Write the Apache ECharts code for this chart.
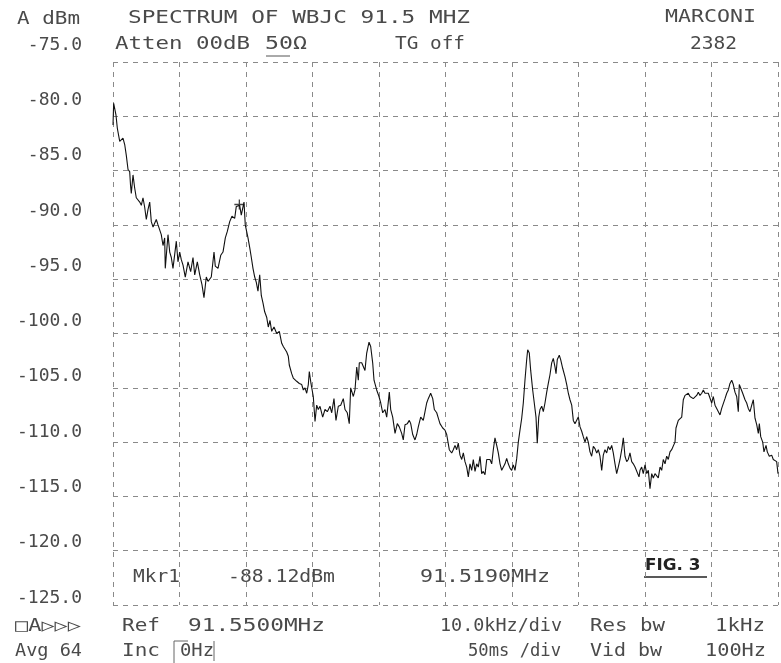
<!DOCTYPE html>
<html><head><meta charset="utf-8">
<script src="https://cdn.jsdelivr.net/npm/echarts/dist/echarts.min.js"></script>
<style>html,body{margin:0;padding:0;background:#fff}#c{width:781px;height:663px}</style>
</head><body><div id="c"></div>
<script>
// ---- data ----
const START_FREQ_KHZ = 91500;      // left edge of screen (Ref 91.5500 MHz centre, 10 kHz/div)
const SPAN_KHZ = 100;
const DIV_KHZ = 10;
const LEVEL_MIN = -125, LEVEL_MAX = -75, LEVEL_STEP = 5;

const freqOffsetKHz = [
0.0,0.1,0.26,0.45,0.65,1.01,1.50,1.76,2.00,2.26,2.51,2.63,2.75,3.01,3.26,3.50,4.02,4.26,4.51,4.77,
5.01,5.26,5.52,5.76,6.02,6.51,6.77,7.26,7.52,7.77,7.86,8.27,8.53,8.77,9.02,9.52,9.77,10.03,10.27,10.53,
10.87,11.28,11.68,12.03,12.29,12.68,13.04,13.38,13.68,14.03,14.29,14.78,15.19,15.38,15.79,16.20,16.54,16.89,17.19,17.55,
17.89,18.30,18.54,19.05,19.29,19.70,19.89,20.30,20.56,20.80,21.05,21.31,21.55,21.80,22.06,22.30,22.56,22.81,23.11,23.35,
23.61,23.86,24.21,24.62,25.01,25.37,25.61,26.12,26.36,26.51,26.87,27.11,27.62,28.02,28.38,28.62,28.87,29.13,29.37,29.52,
29.77,30.12,30.38,30.63,30.87,31.13,31.53,31.88,32.23,32.63,32.89,33.23,33.53,33.88,34.24,34.63,34.89,35.23,35.53,35.74,
36.14,36.39,36.65,36.89,37.04,37.40,37.64,37.89,38.15,38.50,38.75,39.05,39.25,39.65,40.00,40.26,40.56,40.90,41.16,41.55,
41.76,42.06,42.41,42.75,43.05,43.41,43.65,43.91,44.26,44.56,44.77,45.07,45.41,45.67,45.91,46.27,46.66,46.92,47.17,47.41,
47.77,48.08,48.32,48.68,48.92,49.17,49.58,49.92,50.18,50.57,50.93,51.17,51.43,51.68,51.92,52.18,52.44,52.68,52.93,53.19,
53.43,53.68,53.94,54.18,54.44,54.69,54.93,55.19,55.44,55.68,55.94,56.20,56.69,56.95,57.19,57.44,57.70,57.94,58.20,58.45,
58.69,58.95,59.20,59.44,59.70,59.95,60.20,60.45,60.71,60.95,61.20,61.46,61.70,61.95,62.21,62.36,62.60,62.81,63.11,63.35,
63.61,63.80,64.02,64.21,64.47,64.71,64.96,65.22,65.46,65.71,65.97,66.21,66.47,66.62,66.81,67.11,67.32,67.62,67.97,68.23,
68.47,68.72,68.98,69.22,69.47,69.73,69.97,70.23,70.48,70.72,70.98,71.23,71.47,71.73,71.98,72.23,72.48,72.74,72.98,73.23,
73.49,73.73,73.98,74.24,74.48,74.74,74.99,75.23,75.49,75.74,75.98,76.24,76.50,76.74,76.99,77.25,77.49,77.74,78.00,78.24,
78.50,78.75,79.10,79.25,79.50,79.74,80.00,80.26,80.50,80.75,81.01,81.25,81.50,81.76,82.00,82.26,82.51,82.75,83.01,83.26,
83.50,83.76,84.01,84.26,84.51,84.66,85.01,85.26,85.52,85.76,86.02,86.27,86.51,86.77,87.02,87.26,87.52,87.77,88.02,88.27,
88.53,88.77,89.02,89.28,89.52,89.77,90.03,90.27,90.53,90.78,91.02,91.28,91.53,91.77,92.03,92.29,92.53,92.78,93.04,93.28,
93.53,93.79,94.03,94.18,94.39,94.69,95.04,95.29,95.53,95.79,96.05,96.29,96.54,96.80,97.04,97.19,97.40,97.70,97.89,98.20,
98.39,98.69,99.05,99.29,99.55,99.80,100.0
];
const levelDBm = [
-80.8,-78.8,-78.7,-79.9,-81.1,-82.3,-82.0,-82.6,-83.6,-84.9,-85.1,-86.3,-87.1,-85.4,-86.6,-87.5,-87.9,-88.2,-87.5,-88.4,
-89.5,-88.6,-87.9,-89.7,-90.2,-89.5,-90.0,-90.9,-91.9,-91.2,-94.0,-90.9,-92.5,-93.0,-94.0,-91.5,-93.4,-92.5,-93.2,-93.7,
-94.8,-93.4,-94.3,-93.0,-94.6,-93.4,-94.6,-95.5,-96.7,-94.8,-95.2,-94.8,-92.5,-93.8,-94.0,-92.8,-92.5,-91.2,-90.6,-89.7,
-89.2,-89.4,-88.3,-88.2,-89.1,-87.9,-90.0,-91.2,-92.1,-93.0,-94.0,-94.8,-95.3,-96.1,-94.6,-96.5,-97.2,-98.0,-98.5,-99.4,
-98.8,-99.8,-99.4,-100.0,-99.8,-100.9,-101.2,-101.7,-102.1,-102.9,-103.7,-104.1,-104.4,-104.6,-104.7,-105.2,-105.0,-105.5,-104.7,-103.5,
-104.6,-105.8,-108.1,-106.6,-107.0,-106.7,-107.7,-107.0,-107.2,-106.7,-107.3,-106.0,-108.0,-106.7,-106.6,-106.0,-107.0,-107.3,-108.3,-105.0,
-105.8,-105.2,-103.1,-104.3,-102.7,-102.7,-102.6,-103.4,-101.8,-100.8,-101.2,-102.7,-104.3,-105.2,-105.8,-106.4,-107.3,-107.0,-107.7,-105.4,
-107.0,-107.7,-109.2,-108.3,-108.6,-109.2,-109.8,-108.4,-108.3,-108.0,-108.3,-109.3,-109.8,-109.3,-108.6,-107.7,-108.0,-107.2,-106.4,-106.0,
-105.5,-106.0,-107.0,-107.3,-107.8,-108.3,-108.7,-108.9,-109.3,-110.7,-111.0,-110.7,-110.3,-110.7,-110.1,-111.2,-111.6,-111.0,-111.8,-112.3,
-113.2,-112.0,-112.6,-111.6,-112.7,-112.0,-112.3,-111.3,-112.9,-112.7,-113.0,-111.6,-111.6,-112.0,-110.7,-109.6,-110.3,-111.0,-112.0,-112.6,
-112.7,-112.0,-111.5,-112.0,-112.4,-112.6,-112.1,-112.6,-111.5,-110.0,-108.9,-107.8,-106.4,-104.3,-102.4,-101.5,-101.8,-103.4,-105.2,-106.4,
-107.7,-110.1,-107.7,-107.0,-106.7,-107.2,-106.4,-105.4,-104.6,-103.8,-102.7,-102.3,-103.1,-103.7,-102.4,-102.0,-102.4,-103.2,-104.0,-104.7,
-105.5,-106.1,-106.6,-108.0,-108.3,-108.3,-107.7,-108.6,-109.0,-109.5,-110.0,-109.5,-110.0,-110.9,-111.3,-110.4,-110.6,-111.0,-110.7,-111.3,
-112.6,-111.2,-110.7,-111.0,-110.4,-110.7,-110.3,-111.0,-112.0,-112.9,-112.3,-111.6,-110.7,-109.6,-111.3,-111.8,-111.6,-111.0,-111.8,-112.0,
-112.3,-112.4,-113.2,-112.6,-112.3,-112.9,-112.1,-112.9,-112.6,-114.3,-112.9,-113.3,-112.9,-113.0,-113.3,-112.3,-112.6,-111.6,-112.0,-111.3,
-111.6,-110.9,-110.7,-110.6,-110.0,-108.7,-108.0,-108.1,-107.7,-106.1,-105.7,-105.8,-105.5,-105.8,-105.7,-106.0,-106.1,-105.7,-105.4,-105.7,
-105.5,-105.2,-105.5,-105.4,-105.5,-105.4,-106.4,-105.8,-106.6,-106.9,-107.0,-107.5,-106.9,-107.0,-106.0,-105.5,-105.2,-104.6,-104.3,-104.7,
-105.4,-105.8,-107.2,-104.7,-104.6,-105.5,-106.1,-106.4,-106.9,-107.2,-106.6,-106.1,-107.8,-108.4,-109.2,-108.3,-109.5,-110.0,-110.9,-110.3,
-110.9,-111.3,-111.2,-111.6,-111.5,-111.8,-112.9
];
const markerFreqKHz = 91519.0;
const markerLevelDBm = -88.12;

// ---- text blocks ----
const headerTexts = [
  {t:'A dBm', x:17, y:20, w:63},
  {t:'SPECTRUM OF WBJC 91.5 MHZ', x:128, y:19, w:342},
  {t:'MARCONI', x:665, y:18, w:91},
  {t:'Atten 00dB', x:115, y:45, w:135},
  {t:'50Ω', x:265, y:45, w:42},
  {t:'TG off', x:395, y:45, w:70},
  {t:'2382', x:690, y:45, w:47},
  {t:'□A▷▷▷', x:15, y:627, w:66},
  {t:'Ref', x:122, y:627, w:38},
  {t:'91.5500MHz', x:188, y:627, w:137},
  {t:'10.0kHz/div', x:440, y:627, w:122},
  {t:'Res bw', x:590, y:627, w:75},
  {t:'1kHz', x:715, y:627, w:50},
  {t:'Avg 64', x:15, y:652, w:67},
  {t:'Inc', x:122, y:652, w:38},
  {t:'0Hz', x:180, y:652, w:34},
  {t:'50ms /div', x:468, y:652, w:93},
  {t:'Vid bw', x:590, y:652, w:72},
  {t:'100Hz', x:705, y:652, w:61},
  {t:'Mkr1', x:133, y:578, w:47},
  {t:'-88.12dBm', x:228, y:578, w:107},
  {t:'91.5190MHz', x:420, y:578, w:130}
];

const FONT = '"DejaVu Sans Mono", "Liberation Mono", monospace';
const FS = 17, CHAR_W = FS * 0.602;
const TEXT_COLOR = '#4a4a4a';

const chart = echarts.init(document.getElementById('c'), null, {renderer:'canvas'});
const gridLine = {show:true, lineStyle:{color:'#8a8a8a', width:1, type:[5,5]}};

const graphics = headerTexts.map(o => ({
  type:'text', x:o.x, y:o.y, scaleX: o.w / (o.t.length * CHAR_W), silent:true,
  style:{text:o.t, font: FS + 'px ' + FONT, fill:TEXT_COLOR, textAlign:'left', textVerticalAlign:'middle'}
}));
graphics.push(
  {type:'text', x:645, y:566, scaleX:1.12, silent:true,
   style:{text:'FIG. 3', font:'bold 15px "DejaVu Sans", sans-serif', fill:'#222', textAlign:'left', textVerticalAlign:'middle'}},
  {type:'line', silent:true, shape:{x1:644, y1:577, x2:707, y2:577}, style:{stroke:'#222', lineWidth:1.3}},
  {type:'line', silent:true, shape:{x1:266, y1:56, x2:290, y2:56}, style:{stroke:'#555', lineWidth:1}},
  {type:'polyline', silent:true, shape:{points:[[174,663],[174,641],[188,641]]}, style:{stroke:'#666', lineWidth:1, fill:null}},
  {type:'line', silent:true, shape:{x1:214, y1:641, x2:214, y2:661}, style:{stroke:'#666', lineWidth:1}}
);

chart.setOption({
  animation:false,
  backgroundColor:'#fff',
  grid:[
    {left:113, right:3, top:62, bottom:58},
    {left:88, width:10, top:45, bottom:65}
  ],
  xAxis:[
    {type:'value', gridIndex:0, min:START_FREQ_KHZ, max:START_FREQ_KHZ + SPAN_KHZ, interval:DIV_KHZ,
     axisLabel:{show:false}, axisTick:{show:false}, axisLine:{show:false}, splitLine:gridLine},
    {type:'value', gridIndex:1, min:0, max:1, show:false}
  ],
  yAxis:[
    {type:'value', gridIndex:0, min:LEVEL_MIN, max:LEVEL_MAX, interval:LEVEL_STEP,
     axisLabel:{show:false}, axisTick:{show:false}, axisLine:{show:false}, splitLine:gridLine},
    {type:'value', gridIndex:1, min:LEVEL_MIN, max:LEVEL_MAX, interval:LEVEL_STEP,
     axisLine:{show:false}, axisTick:{show:false}, splitLine:{show:false},
     axisLabel:{show:true, margin:6, color:TEXT_COLOR, fontFamily:'"DejaVu Sans Mono", monospace', fontSize:18,
       formatter: v => v.toFixed(1)}}
  ],
  series:[
    {type:'line', xAxisIndex:0, yAxisIndex:0, showSymbol:false, symbol:'none',
     lineStyle:{color:'#111', width:1.1}, data: freqOffsetKHz.map((f,i) => [START_FREQ_KHZ + f, levelDBm[i]])},
    {type:'scatter', xAxisIndex:0, yAxisIndex:0, symbol:'path://M0,5L10,5M5,0L5,10', symbolSize:10,
     itemStyle:{color:'rgba(0,0,0,0)', borderColor:'#111', borderWidth:1.3},
     data:[[markerFreqKHz, markerLevelDBm]]}
  ],
  graphic: graphics
});
</script></body></html>
